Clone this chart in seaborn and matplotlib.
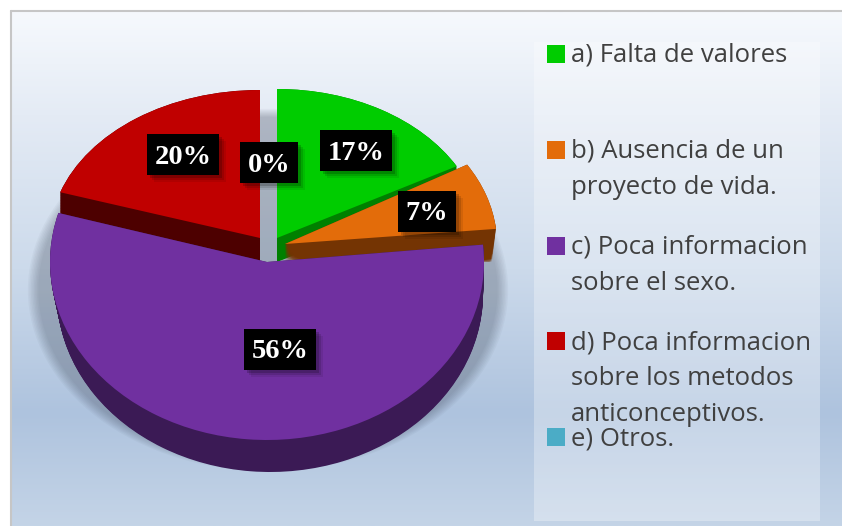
import numpy as np
import matplotlib
matplotlib.use("Agg")
import matplotlib.pyplot as plt
import seaborn as sns
from matplotlib.colors import LinearSegmentedColormap
from matplotlib.patches import Rectangle
from matplotlib.transforms import Affine2D

# data
labels = ["a) Falta de valores",
          "b) Ausencia de un\nproyecto de vida.",
          "c) Poca informacion\nsobre el sexo.",
          "d) Poca informacion\nsobre los metodos\nanticonceptivos.",
          "e) Otros."]
values = [17, 7, 56, 20, 0]
colors = ["#00cc00", "#e36c0a", "#7030a0", "#c00000", "#4bacc6"]
side_colors = ["#008000", "#743403", "#3b1a55", "#4d0000", "#2a6a7c"]

# look of each slice, in picture pixels: apex x/y, rx, ry, angle shift,
# then the bottom face (x shift, y shift, rx, ry)
shape = {
    0: (277, 238, 205, 149, 0, 0, 24, 205, 149),
    1: (285, 244, 212, 155, -2, 0, 18, 208, 5),
    2: (267, 262, 217, 178, -2, 3, 32, 213, 178),
    3: (260, 238, 210, 148, 0, 0, 24, 210, 148),
}
label_pos = {0: (356, 150.5), 1: (427, 211.5), 2: (280, 349.5), 3: (183, 154.5), 4: (269, 162.5)}

W, H = 842, 526
LINE = 36
sns.set_theme(style="white")
palette = sns.color_palette(colors)

fig = plt.figure(figsize=(W / 100, H / 100), dpi=100, facecolor="white")
ax = fig.add_axes([0, 0, 1, 1])


def py(y):
    # picture pixels count from the top
    return H - y


def draw_wedge(frac, start, cx, cy, rx, ry, color, alpha=1.0, z=2):
    wedges, _ = ax.pie([frac], radius=rx, startangle=90 - start, counterclock=False,
                       normalize=False, colors=[color],
                       wedgeprops={"linewidth": 0, "alpha": alpha, "zorder": z})
    wedges[0].set_transform(Affine2D().scale(1, ry / rx).translate(cx, py(cy)) + ax.transData)


# background
grad = LinearSegmentedColormap.from_list(
    "bg", [(0, "#f6f9fd"), (0.2, "#e4ebf5"), (0.5, "#ccdaeb"), (0.78, "#aec3de"), (1, "#c4d4e7")])
ax.imshow(np.linspace(0, 1, 256).reshape(-1, 1), cmap=grad, aspect="auto",
          extent=(12, W, py(H), py(12)), zorder=0)
ax.add_patch(Rectangle((534, py(521)), 286, 479, facecolor="white", alpha=0.3, linewidth=0, zorder=1))
ax.plot([11, 11], [py(11), py(H)], color="#c6c6c6", lw=1.5, zorder=1)
ax.plot([11, W], [py(11), py(11)], color="#c6c6c6", lw=1.5, zorder=1)

# soft shadow under the pie
for s in np.linspace(1.035, 0.99, 8):
    draw_wedge(1.0, 0, 268, 290, 232 * s, 175 * s, "#3c4454", alpha=0.045, z=1.5)

# slices, back ones first, with the side walls built up from copies
order = [3, 0, 1, 2]
starts = np.cumsum([0] + values[:-1]) * 3.6
for n, i in enumerate(order):
    frac = values[i] / 100
    cx, cy, rx, ry, shift, dx, dy, rx2, ry2 = shape[i]
    start = starts[i] + shift
    z = 2 + n
    for t in np.linspace(1, 0, 40):
        draw_wedge(frac, start, cx + dx * t, cy + dy * t, rx + (rx2 - rx) * t, ry + (ry2 - ry) * t,
                   side_colors[i], z=z)
    draw_wedge(frac, start, cx, cy, rx, ry, palette[i], z=z + 0.1)

# percent labels, black boxes with a soft shadow behind them
for i, v in enumerate(values):
    x, y = label_pos[i]
    txt = f"{v}%"
    bw, bh = 30 + 14 * len(txt), 41
    for off, a in [(7, 0.08), (5, 0.12), (3, 0.18)]:
        ax.add_patch(Rectangle((x - bw / 2 + off, py(y + bh / 2 + off)), bw, bh, facecolor="black",
                               alpha=a, linewidth=0, zorder=8))
    ax.add_patch(Rectangle((x - bw / 2, py(y + bh / 2)), bw, bh, facecolor="black", linewidth=0, zorder=9))
    ax.text(x, py(y + 9), txt, fontsize=20.5, fontweight="bold", family="Liberation Serif",
            color="white", ha="center", va="baseline", zorder=10)

# legend, one entry every 95.8 px so the long one runs into the last
for i, lab in enumerate(labels):
    y = 54 + i * 95.8
    ax.scatter([555.5], [py(y)], marker="s", s=150, color=palette[i], linewidths=0, zorder=10)
    # va=baseline sits on the last line of a wrapped label
    last = y + 8 + LINE * lab.count("\n")
    ax.text(571, py(last), lab, fontsize=18.5, family="Open Sans", color="#404040",
            va="baseline", linespacing=1.58, zorder=10)

ax.set_aspect("auto")
ax.set_xlim(0, W)
ax.set_ylim(0, H)
ax.set_xticks([])
ax.set_yticks([])
ax.set_frame_on(False)

fig.savefig("out.png", dpi=100)
